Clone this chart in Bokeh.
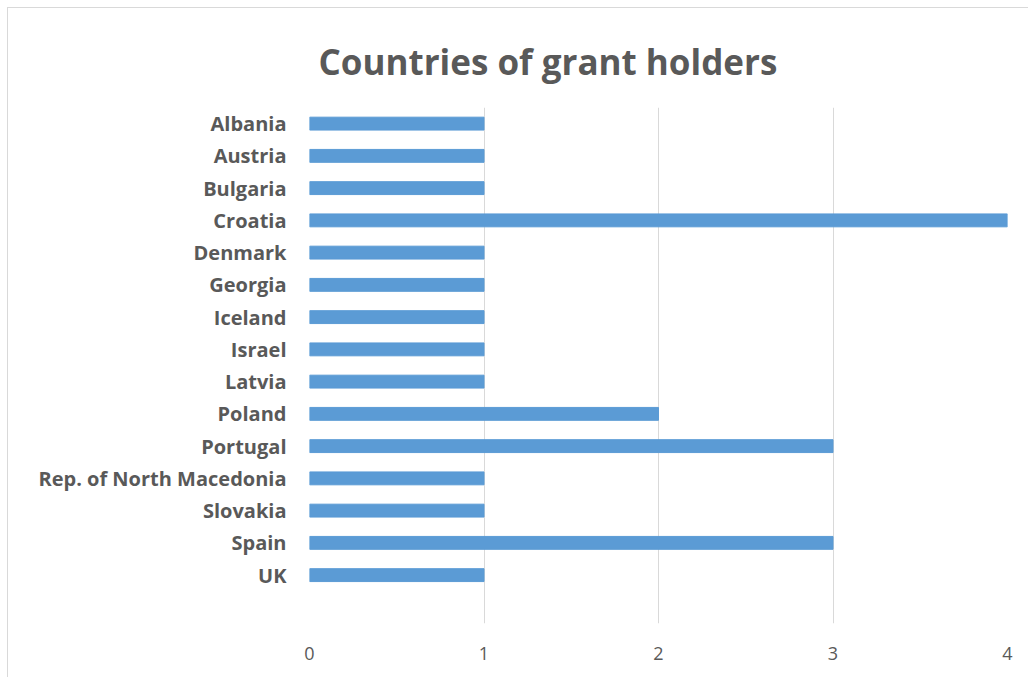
from bokeh.plotting import figure
from bokeh.models import Range1d, FactorRange, FixedTicker
from bokeh.embed import file_html
from bokeh.resources import INLINE

title_text = "Countries of grant holders"
countries = ["Albania", "Austria", "Bulgaria", "Croatia", "Denmark", "Georgia",
             "Iceland", "Israel", "Latvia", "Poland", "Portugal",
             "Rep. of North Macedonia", "Slovakia", "Spain", "UK"]
values = [1, 1, 1, 4, 1, 1, 1, 1, 1, 2, 3, 1, 1, 3, 1]
x_ticks = [0, 1, 2, 3, 4]

factors = [" "] + countries[::-1]

p = figure(width=1021, height=670, output_backend="svg", toolbar_location=None,
           y_range=FactorRange(factors=factors, range_padding=0),
           x_range=Range1d(0, 4),
           min_border_left=301, min_border_right=22, min_border_top=99, min_border_bottom=55,
           margin=(7, 0, 0, 7),
           styles={"border-top": "1px solid #d9d9d9", "border-left": "1px solid #d9d9d9"})

p.hbar(y=countries, right=values, left=0, height=0.4, color="#5B9BD5")

p.title.text = title_text
p.title.align = "left"
p.title.vertical_align = "top"
p.title.offset = 9
p.title.standoff = 41
p.title.text_font = "Open Sans"
p.title.text_font_style = "bold"
p.title.text_font_size = "35px"
p.title.text_color = "#595959"

p.outline_line_color = None
p.ygrid.grid_line_color = None
p.xgrid.grid_line_color = "#D9D9D9"
p.xgrid.grid_line_width = 1

p.xaxis.ticker = FixedTicker(ticks=x_ticks)
p.xaxis.axis_line_color = None
p.xaxis.major_tick_line_color = None
p.xaxis.minor_tick_line_color = None
p.xaxis.major_label_text_font = "Open Sans"
p.xaxis.major_label_text_font_size = "18px"
p.xaxis.major_label_text_color = "#595959"
p.xaxis.major_label_standoff = 17

p.yaxis.axis_line_color = None
p.yaxis.major_tick_line_color = None
p.yaxis.minor_tick_line_color = None
p.yaxis.major_label_text_font = "Open Sans"
p.yaxis.major_label_text_font_style = "bold"
p.yaxis.major_label_text_font_size = "20px"
p.yaxis.major_label_text_color = "#595959"
p.yaxis.major_label_standoff = 17

open("out.html", "w").write(file_html(p, INLINE))
